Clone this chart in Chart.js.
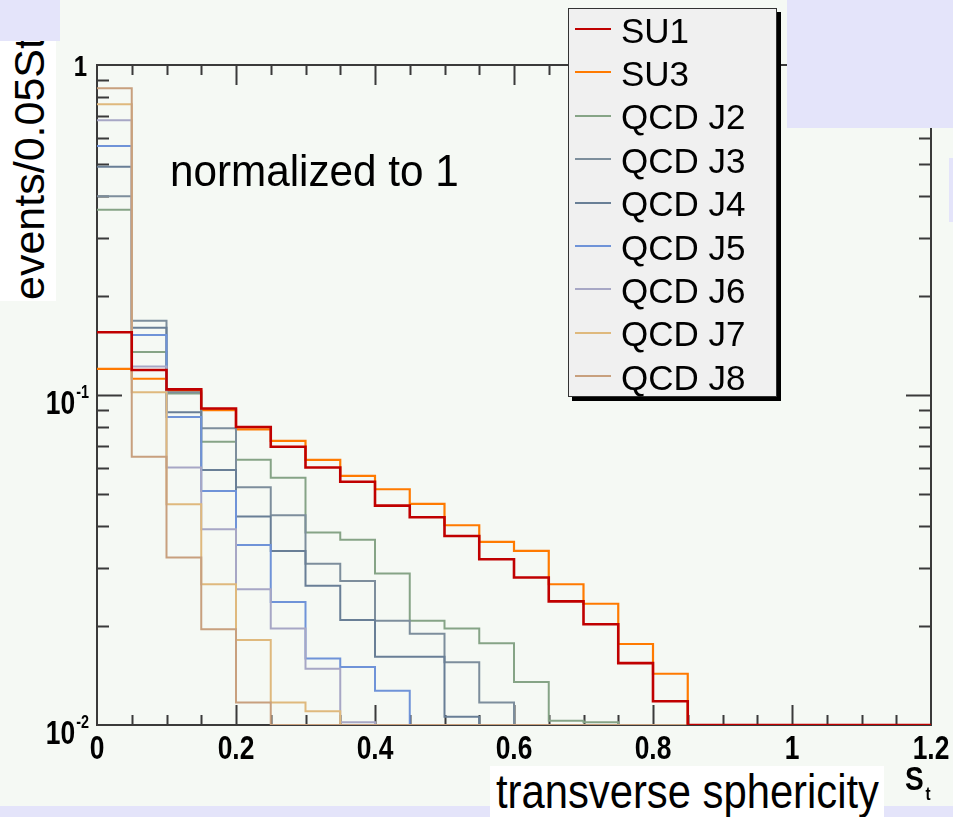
<!DOCTYPE html>
<html>
<head>
<meta charset="utf-8">
<script src="https://cdn.jsdelivr.net/npm/chart.js@4.4.1/dist/chart.umd.min.js"></script>
<style>
  body { margin: 0; background: #f5f9f4; font-family: "Liberation Sans", Arial, sans-serif; }
  #wrap { position: relative; width: 953px; height: 817px; overflow: hidden; background: #f5f9f4; }
  #chart { position: absolute; left: 0; top: 0; }
  .lav { position: absolute; background: #e4e4fa; }
  .whitebox { position: absolute; background: #ffffff; overflow: hidden; }
  .txt { position: absolute; white-space: nowrap; color: #000; line-height: 1; }
  #legend { position: absolute; left: 568px; top: 8px; width: 207px; height: 387px;
            background: #f0f0f0; border: 1px solid #333; box-shadow: 4px 4px 0 #000; }
  #legend .sw { position: absolute; left: 6px; width: 36px; height: 2px; }
  #legend .lb { position: absolute; left: 52px; font-size: 35px; line-height: 35px; white-space: nowrap; color: #000; }
</style>
</head>
<body>
<div id="wrap">
  <canvas id="chart" width="953" height="817"></canvas>

  <div class="txt" style="left:170px; top:149px; font-size:44px; transform:scaleX(0.96); transform-origin:left top;">normalized to 1</div>

  <div class="lav" style="left:0; top:0; width:60px; height:41px;"></div>
  <div class="lav" style="left:787px; top:0; width:166px; height:128px;"></div>
  <div class="lav" style="left:949px; top:158px; width:4px; height:64px;"></div>
  <div class="lav" style="left:0; top:806px; width:953px; height:11px;"></div>

  <div class="whitebox" style="left:0; top:41px; width:56px; height:260px;">
    <div class="txt" style="left:8px; top:259px; font-size:43px; transform:rotate(-90deg); transform-origin:left top;">events/0.05St</div>
  </div>

  <div class="whitebox" style="left:490px; top:766px; width:394px; height:51px;">
    <div class="txt" style="left:6px; top:2px; font-size:48px; transform:scaleX(0.87); transform-origin:left top;">transverse sphericity</div>
  </div>

  <div class="txt" style="left:905px; top:762px; font-size:33px; font-weight:bold; transform:scaleX(0.85); transform-origin:left top;">S<span style="font-size:18px; position:relative; top:10px; left:2px;">t</span></div>

  <div id="legend"></div>
</div>

<script>
// ---- data: fraction of events per 0.05 bin of transverse sphericity
const binEdges = [0, 0.05, 0.1, 0.15, 0.2, 0.25, 0.3, 0.35, 0.4, 0.45, 0.5, 0.55,
                  0.6, 0.65, 0.7, 0.75, 0.8, 0.85, 0.9, 0.95, 1, 1.05, 1.1, 1.15, 1.2];

const su1   = [0.155, 0.119, 0.104, 0.091, 0.080, 0.0697, 0.0603, 0.0546, 0.0462, 0.0426, 0.0374, 0.0318,
               0.0280, 0.0237, 0.0202, 0.0154, 0.0118, 0.01, 0.01, 0.01, 0.01, 0.01, 0.01, 0.01];
const su3   = [0.120, 0.112, 0.103, 0.090, 0.0787, 0.0726, 0.0636, 0.0569, 0.0518, 0.0468, 0.0403, 0.0359,
               0.0337, 0.0267, 0.0233, 0.0176, 0.0143, 0.01, 0.01, 0.01, 0.01, 0.01, 0.01, 0.01];
const qcdJ2 = [0.364, 0.135, 0.101, 0.0722, 0.0636, 0.0561, 0.0383, 0.0364, 0.0288, 0.0207, 0.0196, 0.0177,
               0.0135, 0.0103, 0.0102, 0.01, 0.01, 0.01, 0.01, 0.01, 0.01, 0.01, 0.01, 0.01];
const qcdJ3 = [0.400, 0.168, 0.102, 0.0793, 0.0525, 0.0432, 0.0308, 0.0273, 0.0207, 0.0189, 0.0155, 0.0117,
               0.01, 0.01, 0.01, 0.01, 0.01, 0.01, 0.01, 0.01, 0.01, 0.01, 0.01, 0.01];
const qcdJ4 = [0.492, 0.160, 0.0887, 0.0593, 0.0428, 0.0337, 0.0264, 0.0208, 0.0161, 0.0161, 0.0106, 0.01,
               0.01, 0.01, 0.01, 0.01, 0.01, 0.01, 0.01, 0.01, 0.01, 0.01, 0.01, 0.01];
const qcdJ5 = [0.568, 0.152, 0.0858, 0.0512, 0.0351, 0.0236, 0.0159, 0.0150, 0.0127, 0.01, 0.01, 0.01,
               0.01, 0.01, 0.01, 0.01, 0.01, 0.01, 0.01, 0.01, 0.01, 0.01, 0.01, 0.01];
const qcdJ6 = [0.68, 0.122, 0.0603, 0.0392, 0.0258, 0.0196, 0.0148, 0.0102, 0.01, 0.01, 0.01, 0.01,
               0.01, 0.01, 0.01, 0.01, 0.01, 0.01, 0.01, 0.01, 0.01, 0.01, 0.01, 0.01];
const qcdJ7 = [0.76, 0.102, 0.0467, 0.0267, 0.0181, 0.0117, 0.0110, 0.01, 0.01, 0.01, 0.01, 0.01,
               0.01, 0.01, 0.01, 0.01, 0.01, 0.01, 0.01, 0.01, 0.01, 0.01, 0.01, 0.01];
const qcdJ8 = [0.85, 0.065, 0.0322, 0.0195, 0.0117, 0.01, 0.01, 0.01, 0.01, 0.01, 0.01, 0.01,
               0.01, 0.01, 0.01, 0.01, 0.01, 0.01, 0.01, 0.01, 0.01, 0.01, 0.01, 0.01];

const seriesNames  = ['SU1', 'SU3', 'QCD J2', 'QCD J3', 'QCD J4', 'QCD J5', 'QCD J6', 'QCD J7', 'QCD J8'];
const seriesValues = [su1, su3, qcdJ2, qcdJ3, qcdJ4, qcdJ5, qcdJ6, qcdJ7, qcdJ8];
const seriesColors = ['#c00000', '#ff7a00', '#86a486', '#7d8e9c', '#697f96', '#6f93d8', '#a7a7c5', '#dfb97d', '#c8a07e'];
const seriesWidths = [2.6, 2.2, 2, 2, 2, 2, 2, 2, 2];
// draw order: SU1 on top, then J8 ... J2, SU3 at the back
const seriesOrder  = [0, 8, 7, 6, 5, 4, 3, 2, 1];

const xTickValues = [0, 0.2, 0.4, 0.6, 0.8, 1, 1.2];
const xTickLabels = ['0', '0.2', '0.4', '0.6', '0.8', '1', '1.2'];
const yTickValues = [0.01, 0.1, 1];
const yTickBase   = ['10', '10', '1'];
const yTickExp    = ['-2', '-1', ''];

// histogram -> step line points (left edges + closing right edge)
function histPoints(vals) {
  const pts = vals.map((v, i) => ({ x: binEdges[i], y: v }));
  pts.push({ x: binEdges[vals.length], y: vals[vals.length - 1] });
  return pts;
}

const datasets = seriesNames.map((name, i) => ({
  label: name,
  data: histPoints(seriesValues[i]),
  borderColor: seriesColors[i],
  borderWidth: seriesWidths[i],
  stepped: true,
  fill: false,
  pointRadius: 0,
  tension: 0,
  order: seriesOrder[i]
}));

// frame with ROOT-style inward tick marks
const frameTicks = {
  id: 'frameTicks',
  beforeDatasetsDraw(chart) {
    const ctx = chart.ctx;
    const a = chart.chartArea;
    const x = chart.scales.x, y = chart.scales.y;
    ctx.save();
    ctx.strokeStyle = '#3a3a3a';
    ctx.lineWidth = 2;
    ctx.strokeRect(a.left, a.top, a.right - a.left, a.bottom - a.top);
    ctx.beginPath();
    for (let k = 1; k < 24; k++) {
      const px = Math.round(x.getPixelForValue(k * 0.05)) + 0.5;
      const len = (k % 4 === 0) ? 20 : 10;
      ctx.moveTo(px, a.bottom); ctx.lineTo(px, a.bottom - len);
      ctx.moveTo(px, a.top); ctx.lineTo(px, a.top + len);
    }
    [0.01, 0.1].forEach(dec => {
      for (let m = 1; m <= 9; m++) {
        if (dec === 0.01 && m === 1) continue;
        const py = Math.round(y.getPixelForValue(m * dec)) + 0.5;
        const len = (m === 1) ? 25 : 12;
        ctx.moveTo(a.left, py); ctx.lineTo(a.left + len, py);
        ctx.moveTo(a.right, py); ctx.lineTo(a.right - len, py);
      }
    });
    ctx.stroke();
    ctx.restore();
  }
};

// narrow bold tick labels like the ROOT output, placed through the scales
const tickLabels = {
  id: 'tickLabels',
  afterDraw(chart) {
    const ctx = chart.ctx;
    const a = chart.chartArea;
    const x = chart.scales.x, y = chart.scales.y;
    const squeeze = 0.8;
    const fam = '"Liberation Sans", Arial, sans-serif';
    ctx.save();
    ctx.fillStyle = '#000';
    ctx.textBaseline = 'alphabetic';
    ctx.font = 'bold 33px ' + fam;
    xTickValues.forEach((v, i) => {
      const px = x.getPixelForValue(v);
      const w = ctx.measureText(xTickLabels[i]).width * squeeze;
      ctx.save();
      ctx.translate(px - w / 2, a.bottom + 34);
      ctx.scale(squeeze, 1);
      ctx.fillText(xTickLabels[i], 0, 0);
      ctx.restore();
    });
    yTickValues.forEach((v, i) => {
      const py = y.getPixelForValue(v);
      const right = a.left - 8;
      ctx.font = 'bold 18px ' + fam;
      const we = ctx.measureText(yTickExp[i]).width * squeeze;
      ctx.font = (yTickExp[i] ? 'bold 33px ' : 'bold 30px ') + fam;
      const wb = ctx.measureText(yTickBase[i]).width * squeeze;
      const bx = right - we - wb - (yTickExp[i] ? 1 : 2);
      ctx.save();
      ctx.translate(bx, py + (yTickExp[i] ? 19 : 11));
      ctx.scale(squeeze, 1);
      ctx.fillText(yTickBase[i], 0, 0);
      ctx.restore();
      if (yTickExp[i]) {
        ctx.font = 'bold 18px ' + fam;
        ctx.save();
        ctx.translate(right - we, py + 3);
        ctx.scale(squeeze, 1);
        ctx.fillText(yTickExp[i], 0, 0);
        ctx.restore();
      }
    });
    ctx.restore();
  }
};

const ctx = document.getElementById('chart').getContext('2d');
const chart = new Chart(ctx, {
  type: 'line',
  data: { datasets: datasets },
  options: {
    responsive: false,
    animation: false,
    layout: { padding: { left: 0, right: 22, top: 65, bottom: 52 } },
    plugins: { legend: { display: false }, tooltip: { enabled: false } },
    scales: {
      x: {
        type: 'linear',
        min: 0, max: 1.2,
        grid: { display: false, drawTicks: false },
        border: { display: false },
        ticks: { display: false, stepSize: 0.2 },
        afterFit: (s) => { s.height = 40; }
      },
      y: {
        type: 'logarithmic',
        min: 0.01, max: 1,
        grid: { display: false, drawTicks: false },
        border: { display: false },
        ticks: { display: false },
        afterFit: (s) => { s.width = 97; }
      }
    }
  },
  plugins: [frameTicks, tickLabels]
});

// legend box, ROOT TLegend look
const legend = document.getElementById('legend');
seriesNames.forEach((name, i) => {
  const sw = document.createElement('div');
  sw.className = 'sw';
  sw.style.top = (19 + 43.4 * i) + 'px';
  sw.style.background = seriesColors[i];
  legend.appendChild(sw);
  const lb = document.createElement('div');
  lb.className = 'lb';
  lb.style.top = (3.5 + 43.4 * i) + 'px';
  lb.textContent = name;
  legend.appendChild(lb);
});
</script>
</body>
</html>
